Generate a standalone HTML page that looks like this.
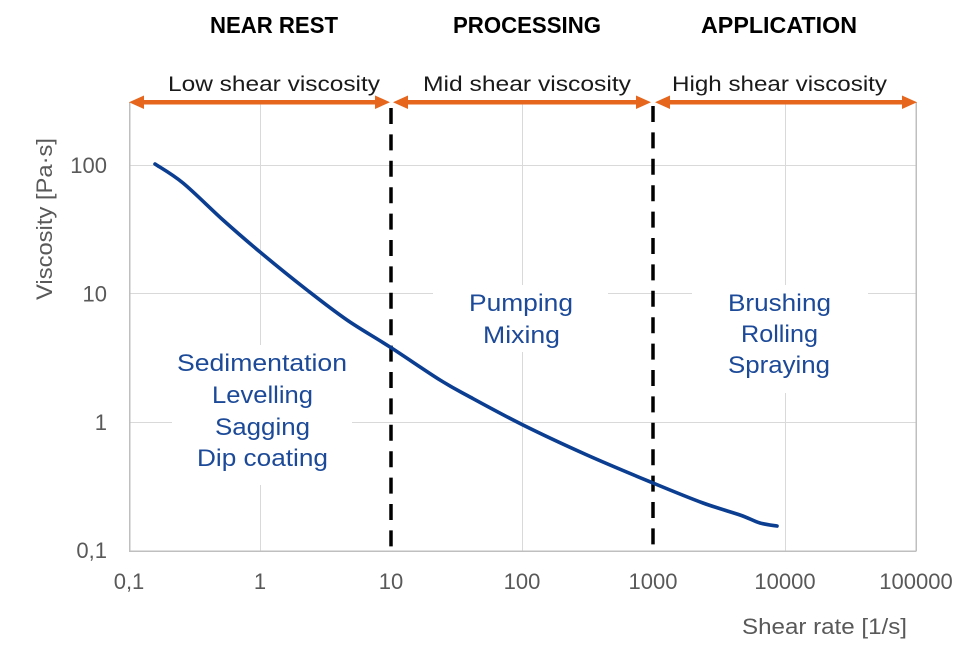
<!DOCTYPE html>
<html>
<head>
<meta charset="utf-8">
<style>
  html, body { margin: 0; padding: 0; background: #ffffff; }
  svg { display: block; }
  text { font-family: "Liberation Sans", Arial, sans-serif; }
</style>
</head>
<body>
<svg width="980" height="666" viewBox="0 0 980 666" xmlns="http://www.w3.org/2000/svg">
  <rect x="0" y="0" width="980" height="666" fill="#ffffff"/>

  <!-- Grid lines -->
  <g stroke="#d9d9d9" stroke-width="1" shape-rendering="crispEdges">
    <line x1="260.5" y1="102" x2="260.5" y2="551"/>
    <line x1="522.5" y1="102" x2="522.5" y2="551"/>
    <line x1="785.5" y1="102" x2="785.5" y2="551"/>
    <line x1="129" y1="165.5" x2="916" y2="165.5"/>
    <line x1="129" y1="293.5" x2="916" y2="293.5"/>
    <line x1="129" y1="422.5" x2="916" y2="422.5"/>
  </g>

  <!-- White boxes behind labels (occlude grid) -->
  <g fill="#ffffff">
    <rect x="172" y="345" width="180" height="140"/>
    <rect x="433" y="285" width="175" height="67"/>
    <rect x="692" y="285" width="176" height="108"/>
  </g>

  <!-- Axes -->
  <g stroke="#bfbfbf" stroke-width="1.5" shape-rendering="crispEdges">
    <line x1="129.5" y1="102" x2="129.5" y2="551"/>
    <line x1="129" y1="551" x2="916.5" y2="551"/>
    <line x1="916" y1="102" x2="916" y2="551"/>
  </g>

  <!-- Dashed dividers -->
  <g stroke="#000000" stroke-width="3.5" stroke-dasharray="16 10.4" fill="none">
    <line x1="391" y1="108" x2="391" y2="551"/>
    <line x1="653" y1="106" x2="653" y2="551"/>
  </g>

  <!-- Orange arrows -->
  <g fill="#e5661c" stroke="none">
    <rect x="140" y="100" width="238" height="4.5"/>
    <polygon points="129,102.2 144,95.5 144,109"/>
    <polygon points="390,102.2 375,95.5 375,109"/>
    <rect x="404" y="100" width="236" height="4.5"/>
    <polygon points="393,102.2 408,95.5 408,109"/>
    <polygon points="651,102.2 636,95.5 636,109"/>
    <rect x="666" y="100" width="238" height="4.5"/>
    <polygon points="655,102.2 670,95.5 670,109"/>
    <polygon points="917,102.2 902,95.5 902,109"/>
  </g>

  <!-- Curve (smoothed) -->
  <path fill="none" stroke="#0b3d91" stroke-width="3.6" stroke-linejoin="round" stroke-linecap="round"
    d="M155,164
       C159.7,167.2 171.7,173.7 183,183
       C194.3,192.3 210.2,208.5 223,220
       C235.8,231.5 246,240.3 260,252
       C274,263.7 292.5,278.7 307,290
       C321.5,301.3 333.2,310.5 347,320
       C360.8,329.5 374.5,337 390,347
       C405.5,357 426.7,371.7 440,380
       C453.3,388.3 456.2,389.5 470,397
       C483.8,404.5 503.5,415.3 523,425
       C542.5,434.7 565.3,445.3 587,455
       C608.7,464.7 633.7,475 653,483
       C672.3,491 688.5,497.7 703,503
       C717.5,508.3 730.5,511.7 740,515
       C749.5,518.3 753.8,521.2 760,523
       C766.2,524.8 774.2,525.5 777,526"/>

  <!-- Section titles -->
  <g font-weight="bold" font-size="23" fill="#000000" text-anchor="start">
    <text x="210" y="33" textLength="128" lengthAdjust="spacingAndGlyphs">NEAR REST</text>
    <text x="453" y="33" textLength="148" lengthAdjust="spacingAndGlyphs">PROCESSING</text>
    <text x="701" y="33" textLength="156" lengthAdjust="spacingAndGlyphs">APPLICATION</text>
  </g>

  <!-- Shear viscosity labels -->
  <g font-size="21.5" fill="#1a1a1a">
    <text x="168" y="91" textLength="212" lengthAdjust="spacingAndGlyphs">Low shear viscosity</text>
    <text x="423" y="91" textLength="208" lengthAdjust="spacingAndGlyphs">Mid shear viscosity</text>
    <text x="672" y="91" textLength="215" lengthAdjust="spacingAndGlyphs">High shear viscosity</text>
  </g>

  <!-- In-plot labels -->
  <g font-size="24.5" fill="#1c4a98">
    <text x="177" y="371" textLength="170" lengthAdjust="spacingAndGlyphs">Sedimentation</text>
    <text x="212" y="403" textLength="101" lengthAdjust="spacingAndGlyphs">Levelling</text>
    <text x="215" y="435" textLength="95" lengthAdjust="spacingAndGlyphs">Sagging</text>
    <text x="197" y="466" textLength="131" lengthAdjust="spacingAndGlyphs">Dip coating</text>
    <text x="469" y="311" textLength="104" lengthAdjust="spacingAndGlyphs">Pumping</text>
    <text x="483" y="343" textLength="77" lengthAdjust="spacingAndGlyphs">Mixing</text>
    <text x="728" y="311" textLength="103" lengthAdjust="spacingAndGlyphs">Brushing</text>
    <text x="741" y="342" textLength="77" lengthAdjust="spacingAndGlyphs">Rolling</text>
    <text x="728" y="373" textLength="102" lengthAdjust="spacingAndGlyphs">Spraying</text>
  </g>

  <!-- X tick labels -->
  <g font-size="22" fill="#595959" text-anchor="middle">
    <text x="129" y="589">0,1</text>
    <text x="260" y="589">1</text>
    <text x="391" y="589">10</text>
    <text x="522" y="589">100</text>
    <text x="653" y="589">1000</text>
    <text x="785" y="589">10000</text>
    <text x="916" y="589">100000</text>
  </g>

  <!-- Y tick labels -->
  <g font-size="22" fill="#595959" text-anchor="end">
    <text x="107" y="173">100</text>
    <text x="107" y="301.5">10</text>
    <text x="107" y="430">1</text>
    <text x="107" y="558">0,1</text>
  </g>

  <!-- Axis titles -->
  <text x="742" y="634" font-size="22" fill="#595959" textLength="165" lengthAdjust="spacingAndGlyphs">Shear rate [1/s]</text>
  <text transform="translate(52,300) rotate(-90)" x="0" y="0" font-size="22" fill="#595959" textLength="162" lengthAdjust="spacingAndGlyphs">Viscosity [Pa·s]</text>
</svg>
</body>
</html>
